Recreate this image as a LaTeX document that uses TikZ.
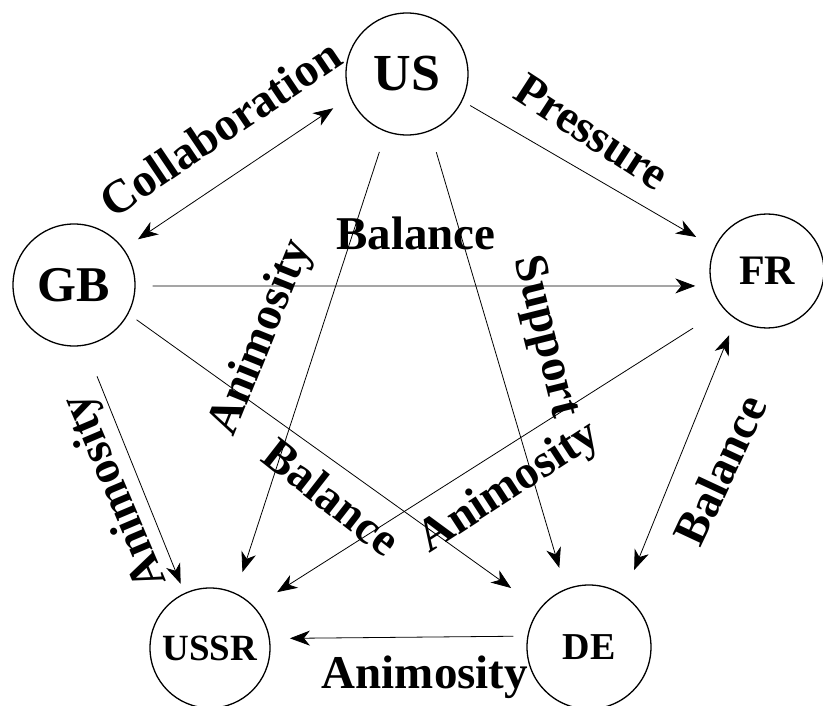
\documentclass[tikz,border=0pt]{standalone}
\usepackage{fontspec}
\setmainfont{Liberation Serif}
\usetikzlibrary{arrows.meta}

\begin{document}
\begin{tikzpicture}[x=1pt,y=-1pt,
    >={Stealth[length=20pt,width=15pt,inset=6pt]},
    country/.style={draw, circle, line width=1.3pt, inner sep=0pt},
    rel/.style={line width=0.8pt, ->},
    lbl/.style={font=\bfseries\fontsize{47}{47}\selectfont, inner sep=0pt}]

        \useasboundingbox (0,0) rectangle (823,706);

        % Countries
        \node[country, minimum size=122pt, font=\bfseries\fontsize{52}{52}\selectfont] (US) at (407,74) {US};
        \node[country, minimum size=122pt, font=\bfseries\fontsize{50}{50}\selectfont] (GB) at (74,285) {GB};
        \node[country, minimum size=114pt, font=\bfseries\fontsize{42}{42}\selectfont] (FR) at (767,271) {FR};
        \node[country, minimum size=120pt, font=\bfseries\fontsize{37}{37}\selectfont] (USSR) at (210,648) {USSR};
        \node[country, minimum size=124pt, font=\bfseries\fontsize{38}{38}\selectfont] (DE) at (589,647) {DE};

        % Relations
        \draw[rel, <->, shorten <=17pt, shorten >=20pt] (GB.36) -- (US.202);
        \draw[rel, shorten <=9pt, shorten >=21pt] (US.334.5) -- (FR.156.6);
        \draw[rel, shorten <=17pt, shorten >=16pt] (GB.-1) -- (FR.195);
        \draw[rel, shorten <=21pt, shorten >=22pt] (US.250) -- (USSR.65.6);
        \draw[rel, shorten <=22pt, shorten >=22pt] (US.292.6) -- (DE.112.9);
        \draw[rel, shorten <=10pt, shorten >=35pt] (GB.332.8) -- (DE.142.6);
        \draw[rel, shorten <=36pt, shorten >=27pt] (FR.221.5) -- (USSR.43.6);
        \draw[rel, <->, shorten <=17pt, shorten >=27pt] (FR.237.2) -- (DE.56.6);
        \draw[rel, shorten <=33pt, shorten >=10pt] (GB.280.9) -- (USSR.115.1);
        \draw[rel, shorten <=14pt, shorten >=20pt] (DE.170.6) -- (USSR.9.6);

        % Labels
        \node[lbl, rotate=34] (collab) at (220,128) {Collaboration};
        \node[lbl, rotate=-33] (press) at (592,132) {Pressure};
        \node[lbl, anchor=base] (bal-gf) at (416,250) {Balance};
        \node[lbl, rotate=68] (anim-us) at (262,338) {Animosity};
        \node[lbl, rotate=-76] (supp) at (545,337) {Support};
        \node[lbl, rotate=-38] (bal-gd) at (332,497) {Balance};
        \node[lbl, rotate=33] (anim-fr) at (510,488) {Animosity};
        \node[lbl, rotate=65] (bal-fd) at (720,470) {Balance};
        \node[lbl, rotate=113] (anim-gb) at (116,491) {Animosity};
        \node[lbl, anchor=base] (anim-de) at (425,688) {Animosity};
    \end{tikzpicture}
\end{document}
